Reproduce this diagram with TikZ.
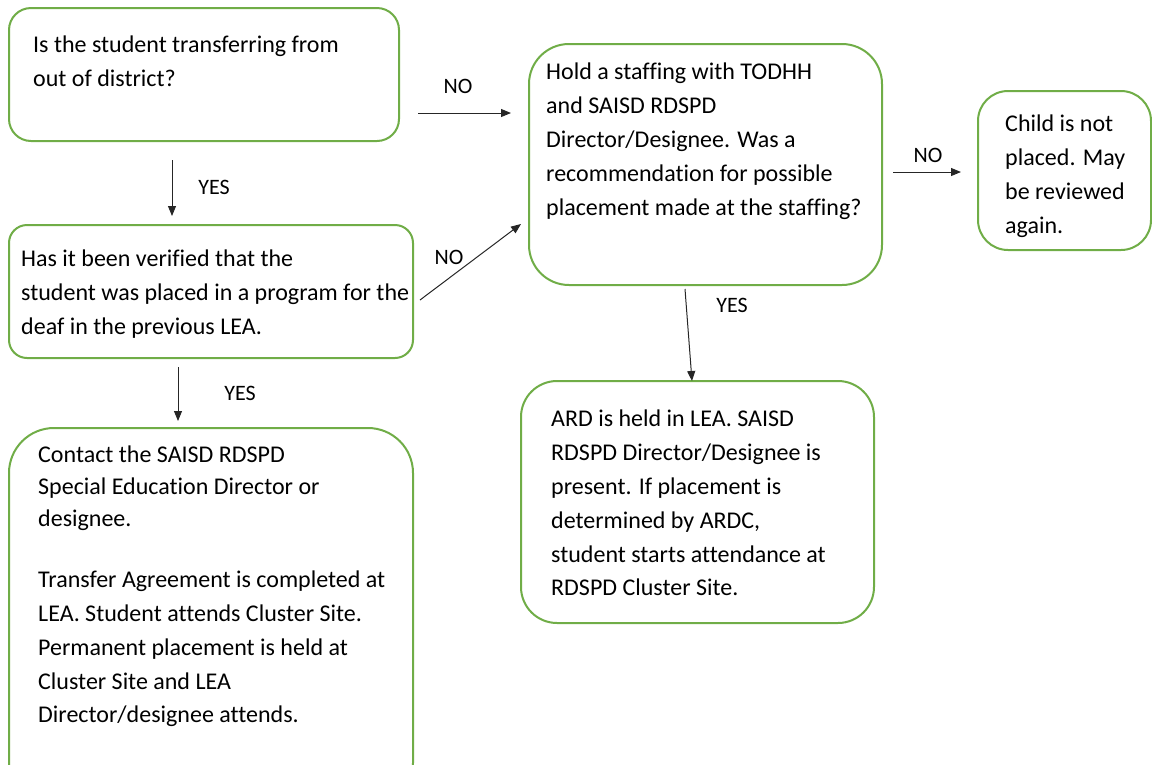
\documentclass[tikz,border=0pt]{standalone}
\usepackage{fontspec}
\setmainfont{Carlito}[Ligatures=CommonOff]
\usetikzlibrary{arrows.meta}
\definecolor{boxgreen}{HTML}{70AD47}
\tikzset{
  box/.style={draw=boxgreen, line width=2pt, fill=white, inner sep=0pt},
  txt/.style={anchor=north west, inner sep=0pt, align=left, font=\fontsize{24}{33.8}\selectfont},
  lbl/.style={inner sep=0pt, font=\fontsize{22}{24}\selectfont},
  arr/.style={draw=black!85, line width=1pt, -{Triangle[length=10pt,width=8pt]}}
}
\begin{document}
\begin{tikzpicture}[x=1pt,y=-1pt]
\useasboundingbox (0,0) rectangle (1152,764);
\clip (0,0) rectangle (1152,764);
% boxes
\node[box, rounded corners=22pt, minimum width=390pt, minimum height=133pt] (q1) at (204,74.5) {};
\node[box, rounded corners=18pt, minimum width=404pt, minimum height=133pt] (q2) at (211,291.5) {};
\node[box, rounded corners=45pt, minimum width=404pt, minimum height=380pt] (c1) at (211,618) {};
\node[box, rounded corners=40pt, minimum width=353pt, minimum height=241pt] (q3) at (705.5,164.5) {};
\node[box, rounded corners=30pt, minimum width=173pt, minimum height=159pt] (n1) at (1064.5,170.5) {};
\node[box, rounded corners=36pt, minimum width=353pt, minimum height=242pt] (a1) at (697.5,502) {};
% texts
\node[txt] (t1) at (33,36) {Is the student transferring from\\out of district?};
\node[txt] (t2) at (21,250) {Has it been verified that the\\student was placed in a program for the\\deaf in the previous LEA.};
\node[txt] (t3) at (38,446) {Contact the SAISD RDSPD\\[-1.8pt]Special Education Director or\\[-1.8pt]designee.\\[27pt]Transfer Agreement is completed at\\LEA. Student attends Cluster Site.\\Permanent placement is held at\\Cluster Site  and LEA\\Director/designee attends.};
\node[txt] (t4) at (546,63) {Hold a staffing with TODHH\\and SAISD RDSPD\\Director/Designee. Was a\\recommendation for possible\\placement made at the staffing?};
\node[txt] (t5) at (1005,115) {Child is not\\placed. May\\be reviewed\\again.};
\node[txt] (t6) at (551,410) {ARD is held in LEA. SAISD\\RDSPD Director/Designee is\\present. If placement is\\determined by ARDC,\\student starts attendance at\\RDSPD Cluster Site.};
% connector endpoints
\coordinate (e1s) at (418,113); \coordinate (e1e) at (511,113);
\coordinate (e2s) at (172,160); \coordinate (e2e) at (172,216);
\coordinate (e3s) at (420,300); \coordinate (e3e) at (521,224);
\coordinate (e4s) at (178,367); \coordinate (e4e) at (178,421);
\coordinate (e5s) at (893,172); \coordinate (e5e) at (961,172);
\coordinate (e6s) at (685,289); \coordinate (e6e) at (692,381);
\draw[arr] (e1s) -- (e1e);
\draw[arr] (e2s) -- (e2e);
\draw[arr] (e3s) -- (e3e);
\draw[arr] (e4s) -- (e4e);
\draw[arr] (e5s) -- (e5e);
\draw[arr] (e6s) -- (e6e);
% labels
\node[lbl] (l1) at (458,86) {NO};
\node[lbl] (l2) at (214,187) {YES};
\node[lbl] (l3) at (449,257) {NO};
\node[lbl] (l4) at (240,393) {YES};
\node[lbl] (l5) at (928,155) {NO};
\node[lbl] (l6) at (732,305) {YES};
\end{tikzpicture}
\end{document}
